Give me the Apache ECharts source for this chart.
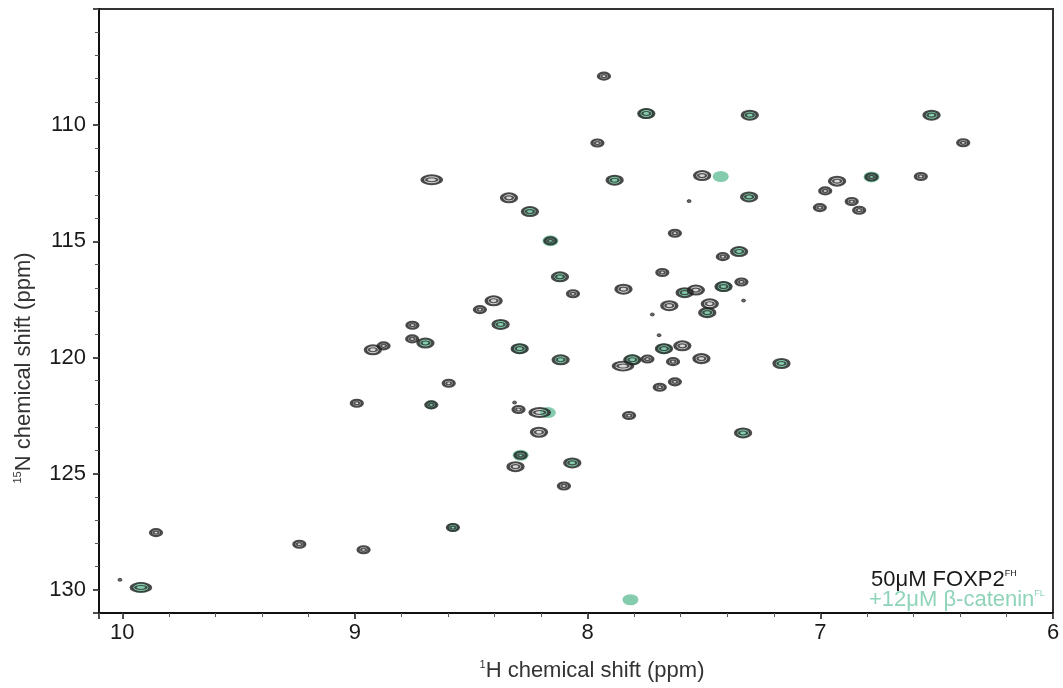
<!DOCTYPE html>
<html><head><meta charset="utf-8">
<script src="https://cdn.jsdelivr.net/npm/echarts@6/dist/echarts.min.js"></script>
<style>html,body{margin:0;padding:0;background:#fff}#c{width:1063px;height:688px}</style>
</head><body><div id="c"></div>
<script>
// tick labels
const xTicks = [10, 9, 8, 7, 6];
const yTicks = [110, 115, 120, 125, 130];
// peaks: [1H ppm, 15N ppm, intensity level 1..4]
const freePeaks = [
  [7.930,107.89,2],[7.748,109.50,3],[7.303,109.57,3],[7.958,110.77,2],[8.670,112.35,4],
  [7.884,112.37,3],[7.508,112.17,3],[7.306,113.09,3],[7.564,113.27,1],[8.338,113.13,3],
  [8.248,113.72,3],[8.160,114.98,2],[7.625,114.65,2],[7.419,115.66,2],[7.349,115.44,3],
  [8.119,116.53,3],[7.679,116.34,2],[7.846,117.06,3],[8.063,117.26,2],[7.583,117.21,3],
  [7.535,117.10,3],[7.416,116.95,3],[7.339,116.75,2],[7.330,117.55,1],[7.722,118.15,1],
  [8.404,117.56,3],[8.463,117.94,2],[7.649,117.77,3],[7.475,117.69,3],[7.486,118.07,3],
  [8.753,118.61,2],[8.374,118.58,3],[6.522,109.57,3],[6.386,110.76,2],[6.928,112.41,3],
  [6.780,112.23,2],[6.568,112.21,2],[6.979,112.83,2],[7.002,113.55,2],[6.865,113.29,2],
  [6.833,113.66,2],[7.167,120.26,3],[7.332,123.25,3],[7.511,120.05,3],[8.754,119.20,2],
  [8.697,119.38,3],[8.877,119.50,2],[8.923,119.67,3],[8.292,119.62,3],[8.116,120.10,3],
  [7.848,120.37,4],[7.808,120.10,3],[7.743,120.07,2],[7.672,119.62,3],[7.593,119.50,3],
  [7.633,120.18,2],[7.693,119.04,1],[7.690,121.28,2],[7.625,121.05,2],[8.597,121.11,2],
  [8.672,122.04,2],[8.297,122.24,2],[8.314,121.94,1],[8.206,122.37,4],[7.822,122.50,2],
  [8.209,123.22,3],[8.288,124.21,2],[8.310,124.70,3],[8.066,124.54,3],[8.102,125.53,2],
  [8.579,127.32,2],[8.992,121.97,2],[9.855,127.54,2],[9.239,128.04,2],[8.963,128.28,2],
  [9.920,129.90,4],[10.01,129.57,1]
];
const boundPeaks = [
  [7.748,109.50,3],[7.303,109.57,2],[6.522,109.57,2],[7.884,112.37,2],[7.428,112.21,3],
  [6.780,112.23,3],[7.306,113.09,2],[8.248,113.72,2],[8.160,114.98,3],[7.349,115.44,2],
  [8.119,116.53,2],[7.583,117.21,2],[7.416,116.95,3],[7.486,118.07,2],[8.374,118.58,2],
  [8.697,119.38,2],[8.292,119.62,3],[8.116,120.10,2],[7.808,120.10,3],[7.672,119.62,3],
  [7.167,120.26,2],[8.672,122.04,2],[8.171,122.37,3],[8.288,124.21,3],[8.066,124.54,2],
  [7.332,123.25,2],[8.579,127.32,2],[7.816,130.43,3],[9.920,129.90,3]
];

const DARK = '#1f1f1f', TEAL = '#84ccad', TEAL_TXT = '#8fd4b9';
const outerSize = {1:[4,3],2:[11,7],3:[15,9],4:[19,9]};
const innerSize = {1:[1,1],2:[5,3],3:[8,4],4:[11,4]};
const tealSize = {1:[8,6],2:[12,9],3:[16,11],4:[19,11]};

const chart = echarts.init(document.getElementById('c'), null, {renderer:'canvas'});
const FONT = 'Liberation Sans, Arial, sans-serif';
const grid = {left:99, right:10, top:9, bottom:75, show:true, borderColor:'#333', borderWidth:2, backgroundColor:'transparent'};
const xMajor = {type:'value', inverse:true, min:6, max:10.1, interval:1, position:'bottom',
  axisLine:{show:true, onZero:false, lineStyle:{color:'#111', width:2}},
  axisTick:{show:true, length:6, lineStyle:{color:'#111', width:1.5}},
  axisLabel:{show:true, margin:9, fontSize:22, color:'#1a1a1a', fontFamily:FONT,
    formatter:v => xTicks.includes(Math.round(v*1000)/1000) ? String(v) : ''},
  splitLine:{show:false}};
const xMinor = {type:'value', inverse:true, min:6, max:10.1, interval:0.2, position:'bottom',
  axisLine:{show:false, onZero:false}, axisTick:{show:true, length:4, lineStyle:{color:'#555', width:1}},
  axisLabel:{show:false}, splitLine:{show:false}};
const yMajor = {type:'value', inverse:true, min:105, max:131, interval:5, position:'left',
  axisLine:{show:true, onZero:false, lineStyle:{color:'#111', width:2}},
  axisTick:{show:true, length:6, lineStyle:{color:'#111', width:1.5}},
  axisLabel:{show:true, margin:13, fontSize:22, color:'#1a1a1a', fontFamily:FONT,
    formatter:v => yTicks.includes(v) ? String(v) : ''},
  splitLine:{show:false}};
const yMinor = {type:'value', inverse:true, min:105, max:131, interval:1, position:'left',
  axisLine:{show:false, onZero:false}, axisTick:{show:true, length:4, lineStyle:{color:'#555', width:1}},
  axisLabel:{show:false}, splitLine:{show:false}};

function items(peaks, sizeMap, extra) {
  return peaks.map(p => {
    const o = {value:[p[0], p[1]], symbolSize:sizeMap[p[2]]};
    if (extra) Object.assign(o, extra(p));
    return o;
  });
}

chart.setOption({
  animation:false,
  grid:grid,
  xAxis:[xMajor, xMinor],
  yAxis:[yMajor, yMinor],
  series:[
    {type:'scatter', name:'fill', z:1, symbol:'circle',
      data:items(freePeaks, outerSize, p => p[2]===1 ? {itemStyle:{color:'#444'}} : {}),
      itemStyle:{color:'rgba(110,110,110,0.35)'}, silent:true},
    {type:'scatter', name:'+12μM β-catenin', z:2, symbol:'circle',
      data:items(boundPeaks, tealSize), itemStyle:{color:TEAL, opacity:1}, silent:true},
    {type:'scatter', name:'50μM FOXP2', z:3, symbol:'circle',
      data:items(freePeaks, outerSize, p => p[2]===1 ? {itemStyle:{borderWidth:0.8}} : {}),
      itemStyle:{color:'rgba(0,0,0,0)', borderColor:DARK, borderWidth:2.6}, silent:true},
    {type:'scatter', name:'inner', z:4, symbol:'circle',
      data:items(freePeaks.filter(p => p[2] > 1), innerSize),
      itemStyle:{color:'rgba(0,0,0,0)', borderColor:'#2e2e2e', borderWidth:1.6}, silent:true}
  ],
  graphic:[
    {type:'text', z:10, position:[592,671],
      style:{text:'{s|1}{m|H chemical shift (ppm)}', fill:'#333', align:'center', verticalAlign:'middle',
        rich:{s:{fontSize:11, fontFamily:FONT, fill:'#333', verticalAlign:'top', lineHeight:24},
              m:{fontSize:22, fontFamily:FONT, fill:'#333', lineHeight:24}}}},
    {type:'text', z:10, position:[24,368], rotation:Math.PI/2,
      style:{text:'{s|15}{m|N chemical shift (ppm)}', fill:'#333', align:'center', verticalAlign:'middle',
        rich:{s:{fontSize:11, fontFamily:FONT, fill:'#333', verticalAlign:'top', lineHeight:24},
              m:{fontSize:22, fontFamily:FONT, fill:'#333', lineHeight:24}}}},
    {type:'text', z:10, position:[871,580],
      style:{text:'{m|50μM FOXP2}{s|FH}', align:'left', verticalAlign:'middle',
        rich:{s:{fontSize:9, fontFamily:FONT, fill:'#1a1a1a', verticalAlign:'top', lineHeight:22},
              m:{fontSize:22, fontFamily:FONT, fill:'#1a1a1a', lineHeight:22}}}},
    {type:'text', z:10, position:[869,600],
      style:{text:'{m|+12μM β-catenin}{s|FL}', align:'left', verticalAlign:'middle',
        rich:{s:{fontSize:9, fontFamily:FONT, fill:TEAL_TXT, verticalAlign:'top', lineHeight:22},
              m:{fontSize:22, fontFamily:FONT, fill:TEAL_TXT, lineHeight:22}}}}
  ]
});
</script>
</body></html>
